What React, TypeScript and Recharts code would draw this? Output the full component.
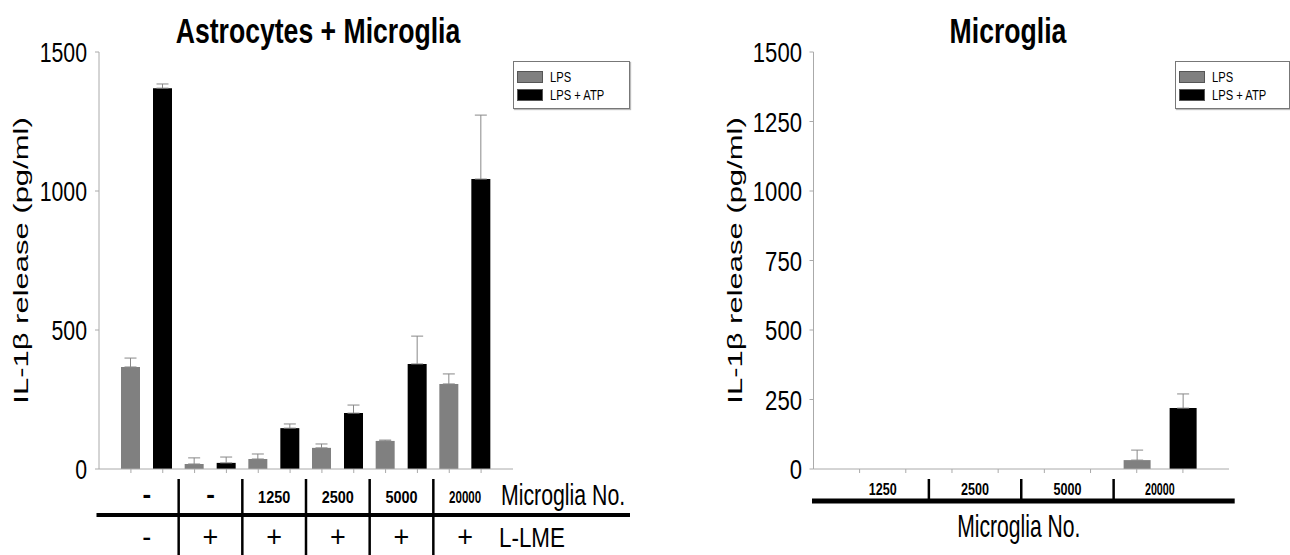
import React from 'react';
import { BarChart, Bar, XAxis, YAxis, Legend, ErrorBar, Label } from 'recharts';

// Astrocytes + Microglia panel
const leftMicroglia = ['-', '-', '1250', '2500', '5000', '20000'];
const leftLlme = ['-', '+', '+', '+', '+', '+'];
const leftLps = [367, 18, 36, 76, 101, 306];
const leftLpsErr = [32, 22, 18, 14, 3, 36];
const leftAtp = [1370, 22, 147, 201, 378, 1043];
const leftAtpErr = [15, 21, 15, 29, 100, 230];
const leftTicks = [0, 500, 1000, 1500];

// Microglia-only panel
const rightMicroglia = ['1250', '2500', '5000', '20000'];
const rightLps = [0, 0, 0, 32];
const rightLpsErr = [null, null, null, 36];
const rightAtp = [0, 0, 0, 219];
const rightAtpErr = [null, null, null, 51];
const rightTicks = [0, 250, 500, 750, 1000, 1250, 1500];

const FONT = '"Liberation Sans", Arial, sans-serif';
const GREY = '#808080';
const AXIS = '#aaaaaa';

const leftData = leftMicroglia.map((m, i) => ({
  microglia: m,
  lps: leftLps[i],
  lpsErr: [0, leftLpsErr[i]],
  atp: leftAtp[i],
  atpErr: [0, leftAtpErr[i]],
}));

const rightData = rightMicroglia.map((m, i) => ({
  microglia: m,
  lps: rightLps[i],
  lpsErr: rightLpsErr[i] == null ? null : [0, rightLpsErr[i]],
  atp: rightAtp[i],
  atpErr: rightAtpErr[i] == null ? null : [0, rightAtpErr[i]],
}));

const sq = (x: number, y: number, sx: number) => `translate(${x},${y}) scale(${sx},1)`;

const YTick = ({ x, y, payload, sx }: any) => (
  <text transform={sq(x, y, sx)} textAnchor="end" dy="0.36em" fontSize={28} fontFamily={FONT} fill="#000">
    {payload.value}
  </text>
);

const YLabel = ({ viewBox, dx }: any) => {
  const cx = viewBox.x + dx;
  const cy = viewBox.y + viewBox.height / 2;
  return (
    <text
      transform={`translate(${cx},${cy}) scale(0.65,1) rotate(-90)`}
      textAnchor="middle"
      dy="0.35em"
      fontSize={31}
      fontFamily={FONT}
      fill="#000"
    >
      IL-1β release (pg/ml)
    </text>
  );
};

// little tick marks sit under each bar, not under the category centre
const barTicks = (x: number, y: number, half: number) => (
  <>
    <line x1={x - half / 2} x2={x - half / 2} y1={y} y2={y + 4} stroke={AXIS} />
    <line x1={x + half / 2} x2={x + half / 2} y1={y} y2={y + 4} stroke={AXIS} />
  </>
);

const LeftXTick = (props: any) => {
  const { x, y, index, payload } = props;
  const half = payload.offset || 32;
  const top = leftMicroglia[index];
  const isNum = top !== '-';
  return (
    <g>
      {barTicks(x, y, half)}
      {index > 0 && (
        <line x1={x - half} x2={x - half} y1={y + 10} y2={y + 90} stroke="#000" strokeWidth={2.5} />
      )}
      <text
        transform={sq(x, y + 34, isNum ? (top.length > 4 ? 0.68 : 0.85) : 1)}
        textAnchor="middle"
        fontSize={isNum ? 17 : 26}
        fontWeight="bold"
        fontFamily={FONT}
      >
        {top}
      </text>
      <text transform={sq(x, y + 78, 0.9)} textAnchor="middle" fontSize={30} fontFamily={FONT}>
        {leftLlme[index]}
      </text>
    </g>
  );
};

const LeftXLabel = ({ viewBox }: any) => {
  const { x, y, width } = viewBox;
  return (
    <g>
      <line x1={x - 2.5} x2={x + width + 117} y1={y + 46} y2={y + 46} stroke="#000" strokeWidth={4} />
      <text transform={sq(x + width - 12, y + 36, 0.71)} fontSize={30} fontFamily={FONT}>
        Microglia No.
      </text>
      <text transform={sq(x + width - 14, y + 78, 0.8)} fontSize={28} fontFamily={FONT}>
        L-LME
      </text>
    </g>
  );
};

const RightXTick = (props: any) => {
  const { x, y, index, payload } = props;
  const half = payload.offset || 46;
  const label = rightMicroglia[index];
  return (
    <g>
      {barTicks(x, y, half)}
      {index > 0 && (
        <line x1={x - half} x2={x - half} y1={y + 10} y2={y + 31} stroke="#000" strokeWidth={2.5} />
      )}
      <text
        transform={sq(x, y + 26, label.length > 4 ? 0.63 : 0.74)}
        textAnchor="middle"
        fontSize={17}
        fontWeight="bold"
        fontFamily={FONT}
      >
        {label}
      </text>
    </g>
  );
};

const RightXLabel = ({ viewBox }: any) => {
  const { x, y, width } = viewBox;
  return (
    <g>
      <line x1={x - 1.5} x2={x + width + 5.7} y1={y + 32} y2={y + 32} stroke="#000" strokeWidth={5} />
      <text transform={sq(x + width / 2 - 2.5, y + 68, 0.66)} textAnchor="middle" fontSize={32} fontFamily={FONT}>
        Microglia No.
      </text>
    </g>
  );
};

const LegendBox = ({ payload }: any) => (
  <div
    style={{
      width: '100%',
      height: 48,
      boxSizing: 'border-box',
      border: '1px solid #777',
      boxShadow: '1px 1px 1px #bbb',
      background: '#fff',
      padding: '6px 0 0 3px',
      fontFamily: FONT,
    }}
  >
    {(payload || []).map((p: any, i: number) => (
      <div key={i} style={{ display: 'flex', alignItems: 'center', height: 18 }}>
        <span
          style={{
            display: 'inline-block',
            width: 26,
            height: 12,
            background: p.color,
            border: '1px solid #555',
            boxSizing: 'border-box',
          }}
        />
        <span
          style={{
            marginLeft: 7,
            fontSize: 14,
            lineHeight: '14px',
            whiteSpace: 'nowrap',
            transform: 'scaleX(0.8)',
            transformOrigin: 'left center',
            color: '#000',
          }}
        >
          {p.value}
        </span>
      </div>
    ))}
  </div>
);

const titleStyle = (cx: number, sx: number): React.CSSProperties => ({
  position: 'absolute',
  left: cx,
  top: 13,
  fontSize: 35,
  lineHeight: '35px',
  fontWeight: 'bold',
  fontFamily: FONT,
  whiteSpace: 'nowrap',
  transform: `translateX(-50%) scaleX(${sx})`,
  zIndex: 2,
});

export default function App() {
  return (
    <div
      style={{
        position: 'absolute',
        left: 0,
        top: 0,
        width: 1290,
        height: 555,
        background: '#fff',
        overflow: 'hidden',
        fontFamily: FONT,
      }}
    >
      <div style={titleStyle(318, 0.76)}>Astrocytes + Microglia</div>
      <div style={titleStyle(1008, 0.76)}>Microglia</div>

      <div style={{ position: 'absolute', left: 0, top: 0 }}>
        <BarChart
          width={660}
          height={555}
          data={leftData}
          margin={{ top: 52, right: 147, bottom: 0, left: 0 }}
          barSize={19}
          barGap={13}
        >
          <XAxis
            dataKey="microglia"
            height={86}
            padding={{ left: 16, right: 16 }}
            interval={0}
            tickLine={false}
            tickSize={0}
            tickMargin={0}
            axisLine={{ stroke: AXIS }}
            tick={(p: any) => <LeftXTick {...p} />}
          >
            <Label content={(p: any) => <LeftXLabel {...p} />} />
          </XAxis>
          <YAxis
            width={99}
            domain={[0, 1500]}
            ticks={leftTicks}
            tickSize={4}
            tickMargin={8}
            axisLine={{ stroke: AXIS }}
            tickLine={{ stroke: AXIS }}
            tick={(p: any) => <YTick {...p} sx={0.76} />}
          >
            <Label content={(p: any) => <YLabel {...p} dx={21} />} />
          </YAxis>
          <Legend
            layout="vertical"
            align="center"
            verticalAlign="middle"
            wrapperStyle={{ left: 513, top: 61, width: 117, height: 48 }}
            content={(p: any) => <LegendBox {...p} />}
          />
          <Bar dataKey="lps" name="LPS" fill={GREY} isAnimationActive={false}>
            <ErrorBar dataKey="lpsErr" direction="y" width={6} stroke="#888" strokeWidth={1} isAnimationActive={false} />
          </Bar>
          <Bar dataKey="atp" name="LPS + ATP" fill="#000" isAnimationActive={false}>
            <ErrorBar dataKey="atpErr" direction="y" width={6} stroke="#888" strokeWidth={1} isAnimationActive={false} />
          </Bar>
        </BarChart>
      </div>

      <div style={{ position: 'absolute', left: 660, top: 0 }}>
        <BarChart
          width={630}
          height={555}
          data={rightData}
          margin={{ top: 52, right: 61, bottom: 0, left: 0 }}
          barSize={27}
          barGap={19}
        >
          <XAxis
            dataKey="microglia"
            height={86}
            padding={{ left: 23, right: 23 }}
            interval={0}
            tickLine={false}
            tickSize={0}
            tickMargin={0}
            axisLine={{ stroke: AXIS }}
            tick={(p: any) => <RightXTick {...p} />}
          >
            <Label content={(p: any) => <RightXLabel {...p} />} />
          </XAxis>
          <YAxis
            width={153.5}
            domain={[0, 1500]}
            ticks={rightTicks}
            tickSize={4}
            tickMargin={7.5}
            axisLine={{ stroke: AXIS }}
            tickLine={{ stroke: AXIS }}
            tick={(p: any) => <YTick {...p} sx={0.79} />}
          >
            <Label content={(p: any) => <YLabel {...p} dx={75} />} />
          </YAxis>
          <Legend
            layout="vertical"
            align="center"
            verticalAlign="middle"
            wrapperStyle={{ left: 515, top: 61, width: 115, height: 48 }}
            content={(p: any) => <LegendBox {...p} />}
          />
          <Bar dataKey="lps" name="LPS" fill={GREY} isAnimationActive={false}>
            <ErrorBar dataKey="lpsErr" direction="y" width={6} stroke="#888" strokeWidth={1} isAnimationActive={false} />
          </Bar>
          <Bar dataKey="atp" name="LPS + ATP" fill="#000" isAnimationActive={false}>
            <ErrorBar dataKey="atpErr" direction="y" width={6} stroke="#888" strokeWidth={1} isAnimationActive={false} />
          </Bar>
        </BarChart>
      </div>
    </div>
  );
}
